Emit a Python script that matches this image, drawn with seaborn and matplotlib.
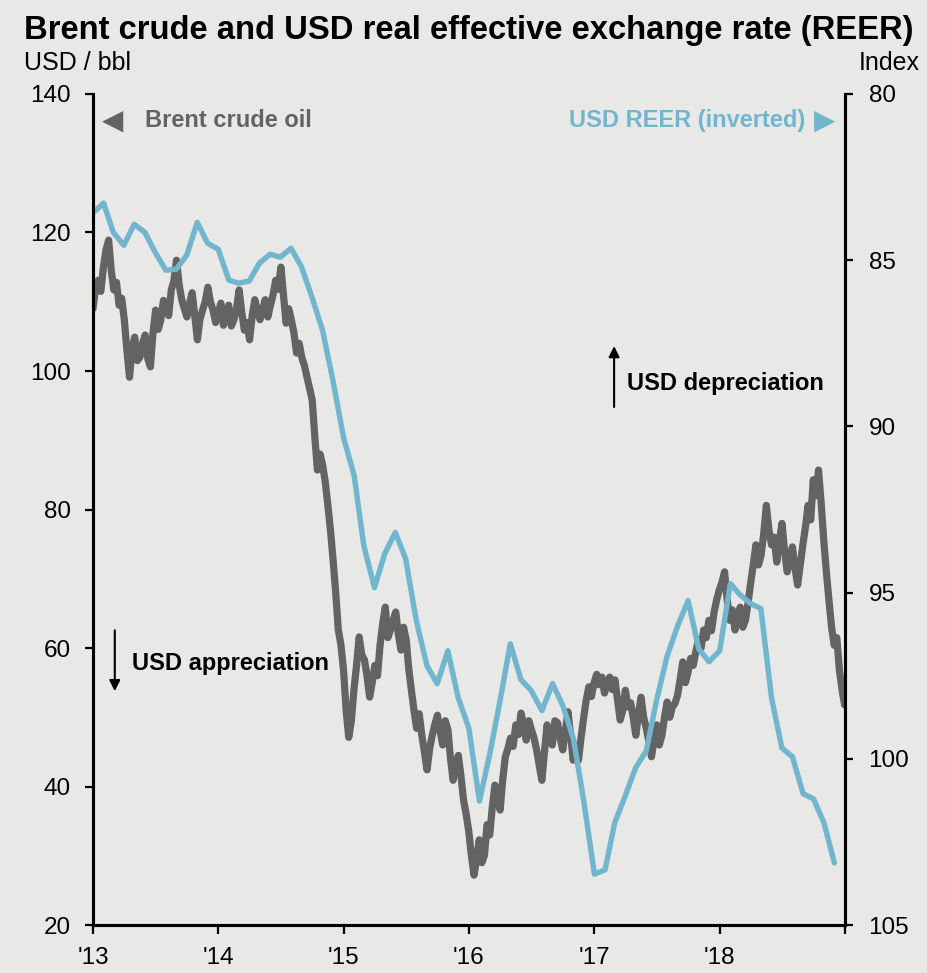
import numpy as np
import pandas as pd
import seaborn as sns
import matplotlib.pyplot as plt

brent = [
    109.0, 112.0, 113.1, 111.5, 115.0, 117.5, 118.9, 114.5, 111.7, 112.8,
    109.5, 110.5, 107.4, 103.0, 99.1, 103.2, 104.9, 101.5, 102.0, 104.0,
    105.2, 101.8, 100.6, 105.5, 108.8, 106.0, 107.4, 110.2, 109.5, 108.0,
    111.7, 113.0, 116.0, 112.5, 110.3, 109.0, 107.8, 109.8, 111.3, 108.0,
    104.5, 107.5, 108.8, 110.0, 112.1, 110.0, 108.8, 107.0, 108.4, 109.8,
    106.6, 108.0, 109.5, 106.5, 107.4, 109.0, 111.7, 108.5, 105.9, 107.0,
    104.5, 108.0, 110.3, 108.5, 107.4, 109.0, 110.3, 107.8, 109.5, 111.0,
    113.1, 111.8, 115.0, 111.0, 106.9, 109.0, 107.4, 105.5, 102.6, 104.0,
    102.0, 100.8, 99.1, 97.5, 95.8, 90.5, 85.7, 88.0, 86.4, 84.0,
    80.6, 77.0, 72.7, 68.0, 62.6, 60.5, 56.8, 51.0, 47.1, 49.5,
    54.0, 57.5, 61.6, 59.0, 58.3, 56.0, 52.9, 55.0, 57.5, 56.0,
    60.4, 63.5, 65.9, 61.5, 62.6, 64.0, 65.2, 62.0, 59.7, 63.0,
    61.2, 57.0, 53.9, 51.0, 48.4, 50.5, 47.4, 45.0, 42.4, 45.5,
    47.4, 49.0, 50.3, 48.0, 46.0, 49.5, 48.2, 44.0, 40.9, 43.0,
    44.5, 41.5, 38.0, 36.0, 33.5, 30.0, 27.2, 29.5, 32.3, 29.0,
    30.1, 34.5, 33.0, 37.0, 40.2, 38.5, 36.6, 41.0, 44.3, 45.5,
    47.0, 45.8, 48.9, 47.5, 50.6, 49.0, 46.7, 49.5, 48.2, 47.0,
    45.3, 43.0, 40.9, 45.0, 48.9, 46.5, 46.0, 49.5, 49.2, 47.0,
    45.3, 48.0, 50.8, 47.5, 43.8, 46.0, 43.8, 47.0, 49.9, 52.5,
    54.4, 53.0, 55.0, 56.2, 54.7, 55.8, 53.5, 55.0, 55.8, 54.0,
    55.4, 52.5, 49.6, 51.0, 53.9, 51.5, 52.1, 50.0, 47.4, 50.5,
    52.9, 50.0, 48.4, 46.5, 44.3, 46.8, 48.9, 46.0, 47.4, 50.0,
    52.2, 50.0, 51.5, 52.0, 53.2, 55.5, 58.0, 55.0, 56.5, 58.5,
    57.5, 59.5, 61.2, 60.0, 62.6, 61.5, 64.0, 62.5, 65.2, 67.0,
    68.4, 69.5, 71.0, 67.0, 64.0, 65.5, 62.6, 64.5, 65.9, 63.0,
    64.0, 66.5, 69.4, 72.0, 74.9, 72.0, 73.4, 76.5, 80.6, 77.0,
    74.9, 76.0, 72.4, 75.5, 78.0, 74.0, 71.0, 73.0, 74.6, 71.5,
    69.1, 72.0, 74.9, 77.5, 80.6, 78.5, 84.3, 82.0, 85.7, 81.0,
    75.6, 71.0, 66.9, 63.0, 60.4, 61.5, 56.8, 54.0, 51.8,
]

# USD real effective exchange rate index, monthly (Jan 2013 - Dec 2018)
reer = [
    83.58, 83.28, 84.16, 84.55, 83.92, 84.16, 84.76, 85.30, 85.27, 84.85,
    83.86, 84.49, 84.67, 85.60, 85.69, 85.63, 85.09, 84.82, 84.91, 84.64,
    85.21, 86.11, 87.11, 88.61, 90.33, 91.48, 93.58, 94.85, 93.83, 93.19,
    93.98, 95.84, 97.20, 97.74, 96.75, 98.16, 99.07, 101.27, 99.91, 98.25,
    96.54, 97.62, 97.95, 98.55, 97.74, 98.40, 99.40, 101.27, 103.47, 103.34,
    101.93, 101.11, 100.27, 99.76, 98.25, 96.90, 95.99, 95.24, 96.69, 97.08,
    96.75, 94.73, 95.06, 95.33, 95.48, 98.16, 99.67, 99.94, 101.05, 101.20,
    101.93, 103.13,
]

brent_dates = pd.date_range("2013-01-01", "2018-12-31", periods=len(brent))
reer_dates = pd.date_range("2013-01-01", periods=len(reer), freq="MS")
year_ticks = pd.date_range("2013-01-01", "2019-01-01", freq="YS")
year_labels = ["'13", "'14", "'15", "'16", "'17", "'18", ""]

bg = "#e8e8e6"
grey = "#636363"
blue = "#72b5cf"

sns.set_style("white")
plt.rcParams["font.family"] = ["Liberation Sans", "DejaVu Sans"]
plt.rcParams["text.color"] = "black"
plt.rcParams["xtick.color"] = "black"
plt.rcParams["ytick.color"] = "black"

fig = plt.figure(figsize=(9.27, 9.73), dpi=100, facecolor=bg)
ax = fig.add_axes([0.1003, 0.0493, 0.8112, 0.8541])
ax.set_facecolor(bg)

sns.lineplot(x=brent_dates, y=brent, ax=ax, color=grey, lw=5.2)
ax2 = ax.twinx()
sns.lineplot(x=reer_dates, y=reer, ax=ax2, color=blue, lw=3.9)

ax.set_xlim(pd.Timestamp("2013-01-01"), pd.Timestamp("2019-01-01"))
ax.set_ylim(20, 140)
ax.set_yticks(range(20, 141, 20))
ax2.set_ylim(105, 80)
ax2.set_yticks(range(80, 106, 5))
ax.set_xticks(year_ticks)
ax.set_xticklabels(year_labels)

for a in (ax, ax2):
    a.set_xlabel("")
    a.set_ylabel("")
    a.spines["top"].set_visible(False)
    for s in ("left", "right", "bottom"):
        a.spines[s].set_visible(True)
        a.spines[s].set_color("black")
        a.spines[s].set_linewidth(2.2)

ax.tick_params(axis="y", direction="out", length=6, width=1.6, labelsize=17.5, pad=10, left=True,
               colors="black")
ax.tick_params(axis="x", direction="out", length=6.5, width=1.6, labelsize=17.5, pad=9, bottom=True,
               colors="black")
ax2.tick_params(axis="y", direction="out", length=6, width=1.6, labelsize=17.5, pad=11, right=True,
                colors="black")

fig.text(0.026, 0.9595, "Brent crude and USD real effective exchange rate (REER)",
         fontsize=23.6, fontweight="bold", va="baseline")
fig.text(0.026, 0.928, "USD / bbl", fontsize=18, va="baseline")
fig.text(0.992, 0.928, "Index", fontsize=18, va="baseline", ha="right")

# series labels inside the plot
ax.text(0.012, 0.958, "\u25C0", transform=ax.transAxes, color=grey, fontsize=20,
        va="baseline", family=["DejaVu Sans"])
ax.text(0.069, 0.960, "Brent crude oil", transform=ax.transAxes, color=grey,
        fontsize=17, fontweight="bold", va="baseline")
ax.text(0.947, 0.960, "USD REER (inverted)", transform=ax.transAxes, color=blue,
        fontsize=17, fontweight="bold", va="baseline", ha="right")
ax.text(0.959, 0.958, "\u25B6", transform=ax.transAxes, color=blue, fontsize=20,
        va="baseline", family=["DejaVu Sans"])

# direction notes
ax.annotate("", xy=(0.693, 0.700), xytext=(0.693, 0.620), xycoords="axes fraction",
            arrowprops=dict(arrowstyle="-|>", color="black", lw=1.5, mutation_scale=16))
ax.text(0.710, 0.652, "USD depreciation", transform=ax.transAxes, fontsize=17,
        fontweight="bold", va="center")
ax.annotate("", xy=(0.029, 0.278), xytext=(0.029, 0.358), xycoords="axes fraction",
            arrowprops=dict(arrowstyle="-|>", color="black", lw=1.5, mutation_scale=16))
ax.text(0.052, 0.315, "USD appreciation", transform=ax.transAxes, fontsize=17,
        fontweight="bold", va="center")

fig.savefig("out.png", dpi=100, facecolor=bg)
